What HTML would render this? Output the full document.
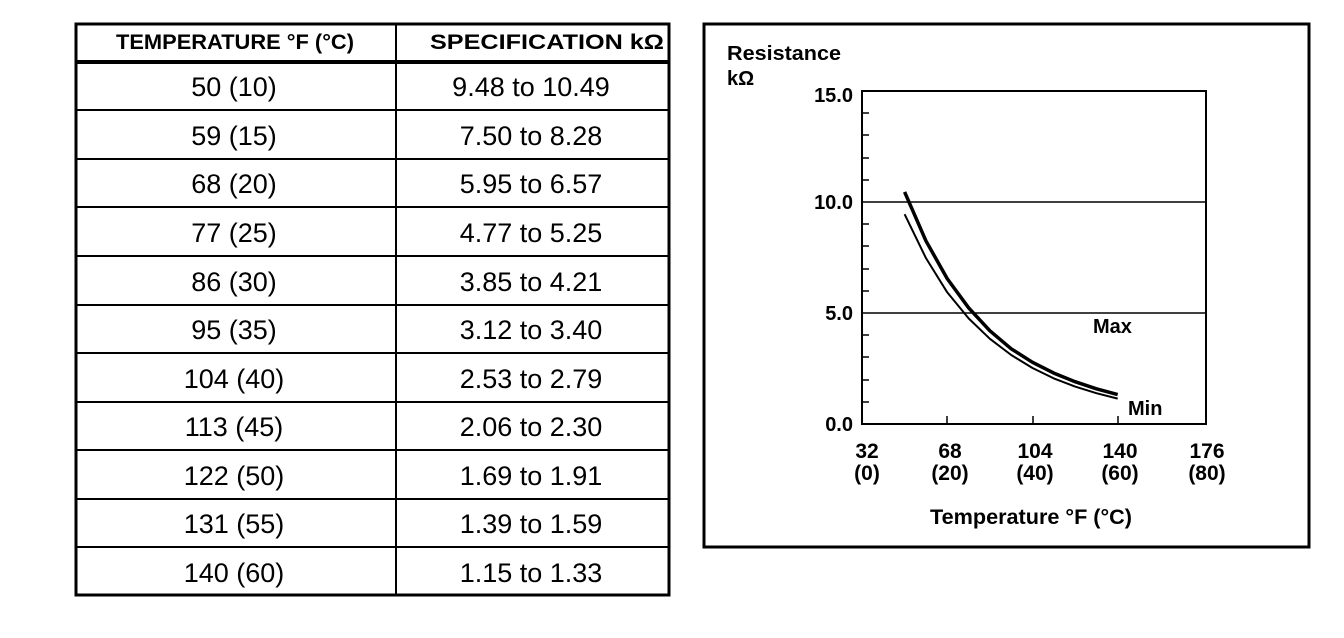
<!DOCTYPE html>
<html><head><meta charset="utf-8"><style>
body{margin:0;background:#fff;width:1344px;height:638px;overflow:hidden;font-family:"Liberation Sans",Arial,sans-serif}
svg{position:absolute;left:0;top:0}
</style></head><body>
<svg width="1344" height="638" viewBox="0 0 1344 638" font-family="Liberation Sans, Arial, sans-serif">
<!-- table -->
<rect x="76" y="24" width="593" height="571" fill="none" stroke="#000" stroke-width="3"/>
<line x1="396" y1="24" x2="396" y2="595" stroke="#000" stroke-width="2"/>
<line x1="76" y1="62" x2="669" y2="62" stroke="#000" stroke-width="4"/>
<g stroke="#000" stroke-width="2">
<line x1="76" y1="110" x2="669" y2="110"/><line x1="76" y1="159" x2="669" y2="159"/>
<line x1="76" y1="207" x2="669" y2="207"/><line x1="76" y1="256" x2="669" y2="256"/>
<line x1="76" y1="305" x2="669" y2="305"/><line x1="76" y1="353" x2="669" y2="353"/>
<line x1="76" y1="402" x2="669" y2="402"/><line x1="76" y1="450" x2="669" y2="450"/>
<line x1="76" y1="499" x2="669" y2="499"/><line x1="76" y1="547" x2="669" y2="547"/>
</g>
<g font-weight="bold" font-size="21" text-anchor="middle">
<text x="235" y="49" textLength="238" lengthAdjust="spacingAndGlyphs">TEMPERATURE °F (°C)</text>
<text x="547" y="49" textLength="234" lengthAdjust="spacingAndGlyphs">SPECIFICATION kΩ</text>
</g>
<g font-size="27" text-anchor="middle">
<text x="234" y="96">50 (10)</text><text x="531" y="96">9.48 to 10.49</text>
<text x="234" y="145">59 (15)</text><text x="531" y="145">7.50 to 8.28</text>
<text x="234" y="193">68 (20)</text><text x="531" y="193">5.95 to 6.57</text>
<text x="234" y="242">77 (25)</text><text x="531" y="242">4.77 to 5.25</text>
<text x="234" y="291">86 (30)</text><text x="531" y="291">3.85 to 4.21</text>
<text x="234" y="339">95 (35)</text><text x="531" y="339">3.12 to 3.40</text>
<text x="234" y="388">104 (40)</text><text x="531" y="388">2.53 to 2.79</text>
<text x="234" y="436">113 (45)</text><text x="531" y="436">2.06 to 2.30</text>
<text x="234" y="485">122 (50)</text><text x="531" y="485">1.69 to 1.91</text>
<text x="234" y="533">131 (55)</text><text x="531" y="533">1.39 to 1.59</text>
<text x="234" y="582">140 (60)</text><text x="531" y="582">1.15 to 1.33</text>
</g>
<!-- chart box -->
<rect x="704" y="24" width="605" height="523" fill="none" stroke="#000" stroke-width="3"/>
<rect x="862" y="91" width="344" height="333" fill="none" stroke="#000" stroke-width="2"/>
<line x1="862" y1="202" x2="1206" y2="202" stroke="#000" stroke-width="1.5"/>
<line x1="862" y1="313" x2="1206" y2="313" stroke="#000" stroke-width="1.5"/>
<g stroke="#000" stroke-width="1.5">
<line x1="862" x2="869" y1="113" y2="113"/><line x1="862" x2="869" y1="135" y2="135"/>
<line x1="862" x2="869" y1="158" y2="158"/><line x1="862" x2="869" y1="180" y2="180"/>
<line x1="862" x2="869" y1="224" y2="224"/><line x1="862" x2="869" y1="246" y2="246"/>
<line x1="862" x2="869" y1="269" y2="269"/><line x1="862" x2="869" y1="291" y2="291"/>
<line x1="862" x2="869" y1="335" y2="335"/><line x1="862" x2="869" y1="357" y2="357"/>
<line x1="862" x2="869" y1="380" y2="380"/><line x1="862" x2="869" y1="402" y2="402"/>
<line x1="947" x2="947" y1="416" y2="424"/><line x1="1033" x2="1033" y1="416" y2="424"/>
<line x1="1118" x2="1118" y1="416" y2="424"/>
</g>
<polyline fill="none" stroke="#000" stroke-width="3.5" stroke-linejoin="round" points="904.6,191.9 925.9,240.8 947.2,278.6 968.6,307.8 989.9,330.8 1011.2,348.8 1032.5,362.3 1053.8,373.1 1075.1,381.7 1096.4,388.8 1117.7,394.6"/>
<polyline fill="none" stroke="#000" stroke-width="2" stroke-linejoin="round" points="904.6,214.2 925.9,258 947.2,292.3 968.6,318.4 989.9,338.8 1011.2,355 1032.5,368 1053.8,378.4 1075.1,386.6 1096.4,393.2 1117.7,398.6"/>
<g font-weight="bold" font-size="20">
<text x="727" y="60" textLength="114" lengthAdjust="spacingAndGlyphs">Resistance</text>
<text x="727" y="85">kΩ</text>
</g>
<g font-weight="bold" font-size="20" text-anchor="end">
<text x="853" y="102">15.0</text><text x="853" y="209">10.0</text>
<text x="853" y="320">5.0</text><text x="853" y="431">0.0</text>
</g>
<g font-weight="bold" font-size="21" text-anchor="middle">
<text x="867" y="458">32</text><text x="867" y="480">(0)</text>
<text x="950" y="458">68</text><text x="950" y="480">(20)</text>
<text x="1035" y="458">104</text><text x="1035" y="480">(40)</text>
<text x="1120" y="458">140</text><text x="1120" y="480">(60)</text>
<text x="1207" y="458">176</text><text x="1207" y="480">(80)</text>
<text x="1031" y="524" textLength="202" lengthAdjust="spacingAndGlyphs">Temperature °F (°C)</text>
</g>
<g font-weight="bold" font-size="20">
<text x="1093" y="333">Max</text>
<text x="1128" y="415">Min</text>
</g>
</svg>
</body></html>
